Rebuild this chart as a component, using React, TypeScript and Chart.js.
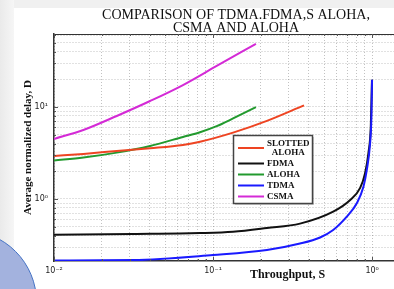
import React, { useEffect, useRef } from 'react';
import { Chart, registerables } from 'chart.js';

Chart.register(...registerables);

// ---- data ----
const seriesLabels = ['SLOTTED\nALOHA', 'FDMA', 'ALOHA', 'TDMA', 'CSMA'];
const seriesColors = ['#ee4422', '#111111', '#229a2e', '#1a1aff', '#d42ad6'];

const slottedS = [0.01, 0.0153, 0.0248, 0.0402, 0.0647, 0.0828, 0.1336, 0.218, 0.373];
const slottedD = [2.94, 3.09, 3.32, 3.56, 3.87, 4.19, 5.26, 7.05, 10.4];

const fdmaS = [0.01, 0.0314, 0.0828, 0.1336, 0.218, 0.352, 0.569, 0.728, 0.841, 0.904, 0.948, 0.981, 0.998];
const fdmaD = [0.409, 0.417, 0.427, 0.441, 0.484, 0.54, 0.728, 0.975, 1.32, 1.92, 3.16, 6.11, 19.7];

const alohaS = [0.01, 0.0153, 0.0248, 0.0402, 0.0647, 0.0828, 0.1054, 0.1336, 0.186];
const alohaD = [2.62, 2.82, 3.19, 3.77, 4.72, 5.31, 6.18, 7.5, 9.93];

const tdmaS = [0.01, 0.0314, 0.1, 0.218, 0.352, 0.471, 0.569, 0.693, 0.801, 0.882, 0.926, 0.971, 0.99, 0.999];
const tdmaD = [0.215, 0.217, 0.246, 0.279, 0.328, 0.382, 0.46, 0.642, 0.898, 1.36, 2.07, 4.03, 7.85, 19.7];

const csmaS = [0.01, 0.0153, 0.0248, 0.0402, 0.0647, 0.1054, 0.186];
const csmaD = [4.49, 5.62, 7.98, 11.6, 17.3, 27.9, 48.4];

const xGridValues = [0.01, 0.02, 0.03, 0.04, 0.05, 0.06, 0.07, 0.08, 0.09, 0.1, 0.2, 0.3, 0.4, 0.5, 0.6, 0.7, 0.8, 0.9, 1];
const yGridValues = [0.3, 0.4, 0.5, 0.6, 0.7, 0.8, 0.9, 1, 2, 3, 4, 5, 6, 7, 8, 9, 10, 20, 30, 40, 50, 60];

const titleLines = ['COMPARISON OF TDMA.FDMA,S ALOHA,', 'CSMA AND ALOHA'];
const xTitle = 'Throughput, S';
const yTitle = 'Average normalized delay, D';

const SUP: Record<string, string> = { '-': '⁻', '0': '⁰', '1': '¹', '2': '²', '3': '³' };
const isPow10 = (v: number) => {
  const l = Math.log10(v);
  return Math.abs(l - Math.round(l)) < 1e-9;
};
const powLabel = (v: number) => {
  if (!isPow10(v)) return '';
  const e = String(Math.round(Math.log10(v)));
  return '10' + e.split('').map((c) => SUP[c] || c).join('');
};

export default function App() {
  const ref = useRef<HTMLCanvasElement>(null);

  useEffect(() => {
    document.body.style.margin = '0';
    const canvas = ref.current!;
    const series = [
      [slottedS, slottedD],
      [fdmaS, fdmaD],
      [alohaS, alohaD],
      [tdmaS, tdmaD],
      [csmaS, csmaD],
    ];
    const datasets = series.map(([S, D], i) => ({
      label: seriesLabels[i],
      borderColor: seriesColors[i],
      backgroundColor: seriesColors[i],
      data: S.map((s, k) => ({ x: s, y: D[k] })),
      borderWidth: 2,
      pointRadius: 0,
      fill: false,
      cubicInterpolationMode: 'monotone' as const,
      order: i === 3 ? -1 : i,
    }));

    const decor = {
      id: 'decor',
      afterDraw(chart: any) {
        const { ctx, chartArea: a, scales } = chart;
        const xs = scales.x;
        const ys = scales.y;
        ctx.save();
        // box (top + right)
        ctx.strokeStyle = '#333';
        ctx.lineWidth = 1.2;
        ctx.beginPath();
        ctx.moveTo(a.left, a.top + 0.5);
        ctx.lineTo(a.right, a.top + 0.5);
        ctx.lineTo(a.right - 0.5, a.bottom);
        ctx.stroke();
        // inner tick marks
        ctx.lineWidth = 1;
        ctx.strokeStyle = '#555';
        ctx.beginPath();
        yGridValues.forEach((v) => {
          const p = Math.round(ys.getPixelForValue(v)) + 0.5;
          const len = isPow10(v) ? 4 : 2;
          ctx.moveTo(a.left, p);
          ctx.lineTo(a.left + len, p);
        });
        xGridValues.forEach((v) => {
          const p = Math.round(xs.getPixelForValue(v)) + 0.5;
          const len = isPow10(v) ? 4 : 2;
          ctx.moveTo(p, a.bottom);
          ctx.lineTo(p, a.bottom - len);
          ctx.moveTo(p, a.top);
          ctx.lineTo(p, a.top + len);
        });
        ctx.stroke();

        // title
        ctx.fillStyle = '#111';
        ctx.font = '14px "Liberation Serif"';
        ctx.textAlign = 'center';
        ctx.textBaseline = 'alphabetic';
        ctx.fillText(titleLines[0], 236, 19);
        ctx.fillText(titleLines[1], 236, 32);

        // axis titles
        ctx.font = 'bold 12px "Liberation Serif"';
        ctx.fillText(xTitle, 287.5, 278);
        ctx.save();
        ctx.translate(31, (a.top + a.bottom) / 2);
        ctx.rotate(-Math.PI / 2);
        ctx.font = 'bold 11px "Liberation Serif"';
        ctx.fillText(yTitle, 0, 0);
        ctx.restore();

        // legend
        const lx = 233, ly = 135, lw = 79, lh = 68;
        ctx.fillStyle = 'rgba(0,0,0,0.2)';
        ctx.fillRect(lx + 2, ly + 2, lw, lh);
        ctx.fillStyle = '#fff';
        ctx.fillRect(lx, ly, lw, lh);
        ctx.strokeStyle = '#444';
        ctx.lineWidth = 1.5;
        ctx.strokeRect(lx + 0.5, ly + 0.5, lw, lh);
        ctx.font = 'bold 9px "Liberation Serif"';
        ctx.textBaseline = 'middle';
        let cursor = ly + 3;
        chart.data.datasets.forEach((ds: any) => {
          const lines = String(ds.label).split('\n');
          const h = 9 * lines.length + 2;
          const cy = cursor + h / 2;
          ctx.strokeStyle = ds.borderColor;
          ctx.lineWidth = 2;
          ctx.beginPath();
          ctx.moveTo(lx + 5, cy);
          ctx.lineTo(lx + 31, cy);
          ctx.stroke();
          ctx.fillStyle = '#111';
          const widths = lines.map((t: string) => ctx.measureText(t).width);
          const wmax = Math.max(...widths);
          const cx = lx + 34 + wmax / 2;
          ctx.textAlign = 'center';
          lines.forEach((t: string, i: number) => {
            ctx.fillText(t, cx, cy + (i - (lines.length - 1) / 2) * 9);
          });
          cursor += h;
        });
        ctx.restore();
      },
    };

    const gridCommon = {
      color: 'rgba(0,0,0,0.24)',
      lineWidth: 1,
      drawTicks: false,
    };
    const borderCommon = { display: true, color: '#333', width: 1.5, dash: [1, 2] };
    const tickFont = { family: '"DejaVu Sans"', size: 8 };

    const chart = new Chart(canvas, {
      type: 'line',
      data: { datasets },
      plugins: [decor],
      options: {
        responsive: false,
        animation: false,
        layout: { padding: { top: 34, right: 20, left: 0, bottom: 0 } },
        plugins: { legend: { display: false }, title: { display: false }, tooltip: { enabled: false } },
        scales: {
          x: {
            type: 'logarithmic',
            min: 0.01,
            max: 2,
            grid: gridCommon,
            border: borderCommon,
            ticks: {
              autoSkip: false,
              maxRotation: 0,
              minRotation: 0,
              padding: 5,
              color: '#222',
              font: tickFont,
              callback: (v: any) => powLabel(Number(v)),
            },
            afterBuildTicks: (s: any) => {
              s.ticks = xGridValues.map((v) => ({ value: v }));
            },
            afterFit: (s: any) => {
              s.height = 28;
            },
          },
          y: {
            type: 'logarithmic',
            min: 0.212,
            max: 62,
            grid: gridCommon,
            border: borderCommon,
            ticks: {
              autoSkip: false,
              padding: 6,
              color: '#222',
              font: tickFont,
              callback: (v: any) => powLabel(Number(v)),
            },
            afterBuildTicks: (s: any) => {
              s.ticks = yGridValues.map((v) => ({ value: v }));
            },
            afterFit: (s: any) => {
              s.width = 54;
            },
          },
        },
      } as any,
    });
    return () => chart.destroy();
  }, []);

  return (
    <div style={{ position: 'relative', width: 394, height: 289, overflow: 'hidden', background: '#fff' }}>
      <div style={{ position: 'absolute', left: 0, top: 0, width: 394, height: 8, background: '#f0f0f0' }} />
      <div
        style={{
          position: 'absolute',
          left: 0,
          top: 0,
          width: 14,
          height: 289,
          background: 'linear-gradient(to right, #eaeaea, #f6f6f6)',
        }}
      />
      <canvas ref={ref} width={440} height={289} style={{ position: 'absolute', left: 0, top: 0, width: 440, height: 289 }} />
      <div
        style={{
          position: 'absolute',
          left: -107,
          top: 230,
          width: 144,
          height: 144,
          borderRadius: '50%',
          boxSizing: 'border-box',
          background: '#a3b2de',
          border: '1.5px solid #4472c4',
        }}
      />
    </div>
  );
}
